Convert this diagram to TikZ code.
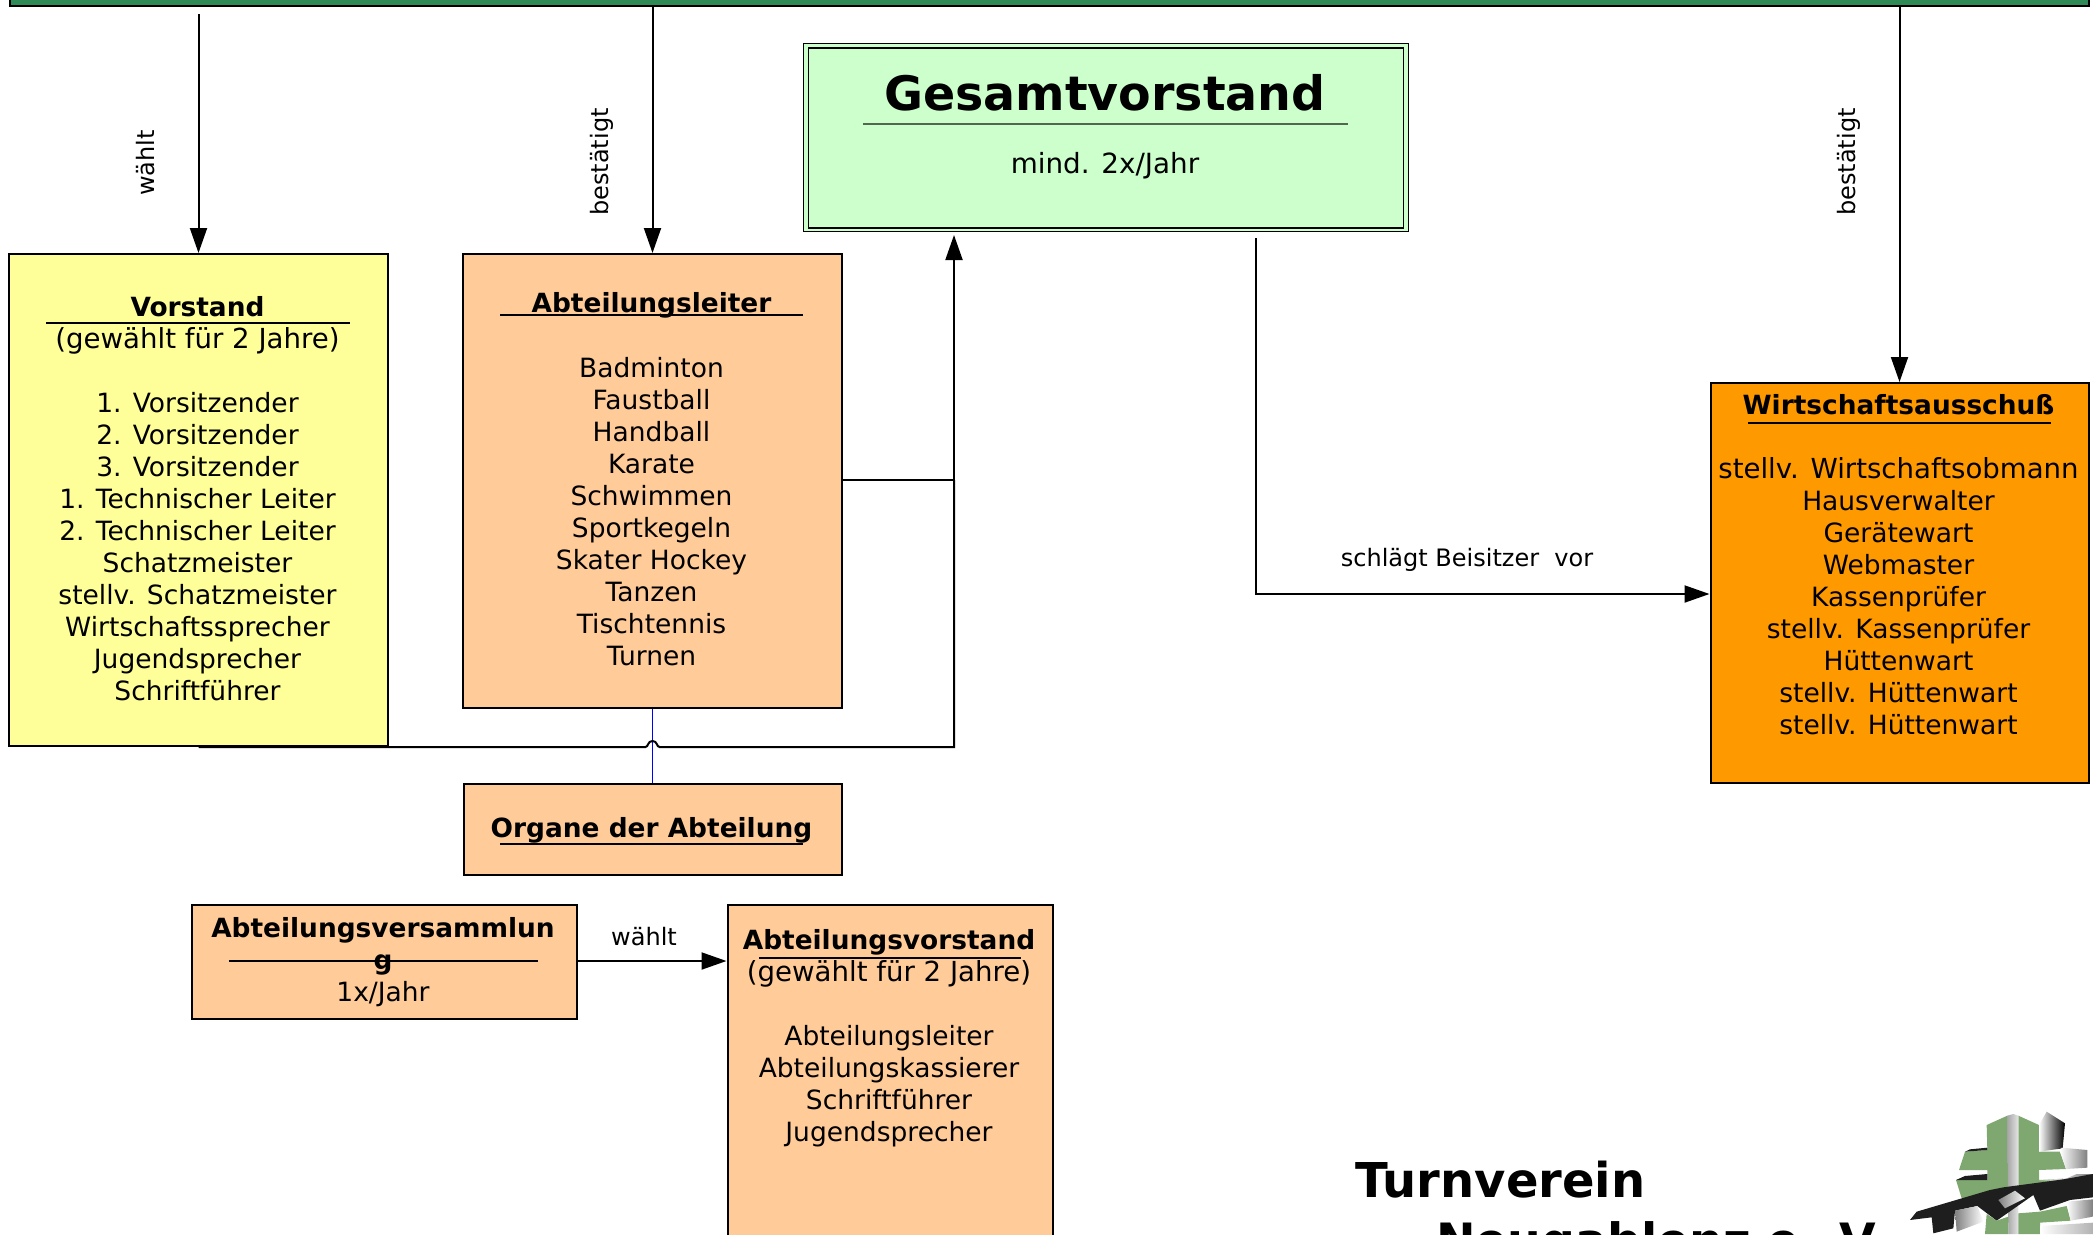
\documentclass[tikz,border=0pt]{standalone}
\usepackage{fontspec}
\setmainfont{DejaVu Sans}
\usetikzlibrary{arrows.meta}
\definecolor{cyellow}{HTML}{FFFF99}
\definecolor{cpeach}{HTML}{FFCC99}
\definecolor{corange}{HTML}{FF9900}
\definecolor{cmint}{HTML}{CCFFCC}
\definecolor{cband}{HTML}{2E8B57}
\definecolor{cleaf}{HTML}{7FA870}
\definecolor{cink}{HTML}{1E1E1E}
\newcommand{\widerline}{\fontsize{27.6}{32}\selectfont}
\tikzset{
  x=1pt,y=-1pt,
  boxnode/.style={draw=black,line width=2pt,inner sep=0pt,anchor=north west},
  bodytext/.style={font=\fontsize{26.5}{32}\selectfont,align=center,anchor=north,inner sep=0pt},
  titletext/.style={font=\fontsize{26.4}{32}\selectfont\bfseries,anchor=base,inner sep=0pt},
  linktext/.style={font=\fontsize{24}{28}\selectfont,inner sep=0pt,anchor=base},
  bigtext/.style={font=\fontsize{47.5}{56}\selectfont\bfseries,inner sep=0pt,anchor=base},
  conn/.style={line width=2pt,draw=black},
  arrowconn/.style={conn,-{Triangle[length=25pt,width=17pt]}},
  rulemark/.style={line width=1.8pt,draw=black},
}
\begin{document}
\begin{tikzpicture}
\useasboundingbox (0,0) rectangle (2093,1234);
\clip (0,0) rectangle (2093,1234);
% top band
\node[boxnode,draw=black,fill=cband,line width=2pt,minimum width=2079pt,minimum height=12pt] (band) at (9,-7) {};
% boxes
\node[boxnode,fill=cyellow,minimum width=379pt,minimum height=492pt] (vorstand) at (8,253) {};
\node[boxnode,fill=cpeach,minimum width=379pt,minimum height=454pt] (leiter) at (462,253) {};
\node[boxnode,fill=cpeach,minimum width=378pt,minimum height=91pt] (organe) at (462.5,783) {};
\node[boxnode,fill=cpeach,minimum width=385pt,minimum height=114pt] (versamml) at (190.5,904) {};
\node[boxnode,fill=cpeach,minimum width=325pt,minimum height=380pt] (abtvorst) at (726.5,904) {};
\node[boxnode,fill=corange,minimum width=378pt,minimum height=400pt] (wirt) at (1709.5,382) {};
\node[boxnode,fill=cmint,line width=1.2pt,minimum width=605pt,minimum height=188pt] (gesamt) at (802.5,43) {};
\node[boxnode,fill=cmint,line width=1.5pt,minimum width=595pt,minimum height=180pt] (gesamtin) at (807.5,47) {};
% rules
\coordinate (r1a) at (46,323); \coordinate (r1b) at (350,323);
\coordinate (r2a) at (500,315); \coordinate (r2b) at (803,315);
\coordinate (r3a) at (500,844); \coordinate (r3b) at (803,844);
\coordinate (r4a) at (229,961); \coordinate (r4b) at (538,961);
\coordinate (r5a) at (759,958); \coordinate (r5b) at (1021,958);
\coordinate (r6a) at (1748,423); \coordinate (r6b) at (2051,423);
\coordinate (r7a) at (863,124); \coordinate (r7b) at (1348,124);
\draw[rulemark] (r1a) -- (r1b);
\draw[rulemark] (r2a) -- (r2b);
\draw[rulemark] (r3a) -- (r3b);
\draw[rulemark] (r4a) -- (r4b);
\draw[rulemark] (r5a) -- (r5b);
\draw[rulemark] (r6a) -- (r6b);
\draw[line width=1.4pt,draw=black!60!cmint] (r7a) -- (r7b);
% texts
\node[titletext] (tvorstand) at (197.5,316) {Vorstand};
\node[bodytext] (bvorstand1) at (197.5,325.6) {\strut\widerline (gewählt für 2 Jahre)};
\node[bodytext] (bvorstand2) at (197.5,389.6) {\strut1. Vorsitzender\\2. Vorsitzender\\3. Vorsitzender\\1. Technischer Leiter\\2. Technischer Leiter\\Schatzmeister\\stellv. Schatzmeister\\Wirtschaftssprecher\\Jugendsprecher\\Schriftführer};
\node[titletext] (tleiter) at (651.5,312) {Abteilungsleiter};
\node[bodytext] (bleiter) at (651.5,354.6) {\strut Badminton\\Faustball\\Handball\\Karate\\Schwimmen\\Sportkegeln\\Skater Hockey\\Tanzen\\Tischtennis\\Turnen};
\node[titletext] (torgane) at (651.5,837) {Organe der Abteilung};
\node[titletext] (tversamml1) at (383,937) {Abteilungsversammlun};
\node[titletext] (tversamml2) at (383,969) {g};
\node[bodytext] (bversamml) at (383,978.6) {\strut 1x/Jahr};
\node[titletext] (tabtvorst) at (889,949) {Abteilungsvorstand};
\node[bodytext] (babtvorst1) at (889,958.6) {\strut\widerline (gewählt für 2 Jahre)};
\node[bodytext] (babtvorst2) at (889,1022.6) {\strut Abteilungsleiter\\Abteilungskassierer\\Schriftführer\\Jugendsprecher};
\node[titletext] (twirt) at (1898.5,414) {Wirtschaftsausschuß};
\node[bodytext] (bwirt) at (1898.5,455.6) {\strut{\widerline stellv. Wirtschaftsobmann}\\Hausverwalter\\Gerätewart\\Webmaster\\Kassenprüfer\\stellv. Kassenprüfer\\Hüttenwart\\stellv. Hüttenwart\\stellv. Hüttenwart};
\node[bigtext] (tgesamt) at (1105,110) {Gesamtvorstand};
\node[bodytext,font=\fontsize{27.8}{32}\selectfont] (bgesamt) at (1105,150.6) {\strut mind. 2x/Jahr};
% connectors
\coordinate (s1) at (vorstand.north |- 0,14);
\coordinate (s2) at (leiter.north |- 0,7);
\coordinate (s3) at (wirt.north |- 0,7);
\coordinate (s4) at (1256,238);
\coordinate (k4) at (1256,594);
\coordinate (e4) at (wirt.west |- k4);
\coordinate (m2) at (954,480);
\coordinate (e1) at (954,235);
\coordinate (m1) at (e1 |- vorstand.south);
\coordinate (hopc) at (leiter.south |- vorstand.south);
\draw[arrowconn] (s1) -- (vorstand.north);
\draw[arrowconn] (s2) -- (leiter.north);
\draw[arrowconn] (s3) -- (wirt.north);
\draw[arrowconn] (s4) -- (k4) -- (e4);
\draw[arrowconn] (versamml.east |- 0,961) -- (abtvorst.west |- 0,961);
\draw[conn,draw=blue,line width=1.6pt] (leiter.south) -- (organe.north);
\draw[conn] (vorstand.south) -- ([xshift=-7pt]hopc) .. controls ([xshift=-4pt]hopc) and ([xshift=-5pt,yshift=6pt]hopc) .. ([yshift=6pt]hopc) .. controls ([xshift=5pt,yshift=6pt]hopc) and ([xshift=4pt]hopc) .. ([xshift=7pt]hopc) -- (m1) -- (m2);
\draw[arrowconn] (m1) -- (e1);
\draw[conn] (leiter.east |- m2) -- (m2);
\node[linktext,rotate=90] (lwaehlt) at (154,163) {wählt};
\node[linktext,rotate=90] (lbest1) at (608,162) {bestätigt};
\node[linktext,rotate=90] (lbest2) at (1855,162) {bestätigt};
\node[linktext] (lschlaegt) at (1467,566) {schlägt Beisitzer\ \ vor};
\node[linktext] (lwaehlt2) at (644,945) {wählt};
% name
\node[bigtext,anchor=base west,font=\fontsize{48}{56}\selectfont\bfseries] (tv1) at (1355,1197) {Turnverein};
\node[bigtext,anchor=base west,font=\fontsize{47.3}{56}\selectfont\bfseries] (tv2) at (1436,1257) {Neugablenz e. V.};
% logo
\begin{scope}[shift={(1890,1100)},x=0.3333pt,y=-0.3333pt]
\fill[cleaf] (290,75) -- (352,47) -- (358,268) -- (215,295) -- (198,240) -- (292,240) -- (292,210) -- (207,210) -- (225,155) -- (292,150) -- cycle;
\fill[cleaf] (385,47) -- (447,75) -- (447,155) -- (510,155) -- (528,207) -- (447,210) -- (447,240) -- (520,236) -- (385,268) -- cycle;
\fill[cink] (225,155) -- (240,148) -- (292,143) -- (292,150) -- cycle;
\fill[cink] (198,240) -- (225,228) -- (292,222) -- (292,240) -- cycle;
\shade[left color=gray!70,right color=gray!20] (352,47) -- (370,42) -- (385,47) -- (385,402) -- (355,402) -- cycle;
\shade[left color=white,right color=black] (447,75) -- (470,35) -- (525,70) -- (518,145) -- (447,155) -- cycle;
\shade[left color=white,right color=gray] (510,155) -- (515,143) -- (592,150) -- (592,203) -- (528,207) -- cycle;
\shade[left color=white,right color=gray] (447,240) -- (528,236) -- (560,222) -- (609,222) -- (560,245) -- cycle;
\fill[cink] (60,360) -- (80,335) -- (300,270) -- (340,262) -- (520,238) -- (609,222) -- (609,292) -- (540,300) -- (450,332) -- (430,285) -- (320,362) -- (262,318) -- (195,332) -- (190,385) -- (130,400) -- (125,352) -- cycle;
\shade[left color=gray,right color=white] (195,332) -- (262,318) -- (280,365) -- (200,395) -- cycle;
\shade[left color=gray,right color=white] (325,300) -- (375,272) -- (405,295) -- (345,325) -- cycle;
\fill[cleaf] (290,342) -- (320,362) -- (355,350) -- (355,402) -- (285,402) -- cycle;
\fill[cleaf] (385,340) -- (450,335) -- (530,318) -- (542,362) -- (450,368) -- (450,402) -- (385,402) -- cycle;
\shade[left color=white,right color=gray] (530,305) -- (609,298) -- (609,350) -- (542,362) -- cycle;
\shade[left color=white,right color=gray!60] (450,378) -- (609,368) -- (609,402) -- (450,402) -- cycle;
\end{scope}
\end{tikzpicture}
\end{document}
